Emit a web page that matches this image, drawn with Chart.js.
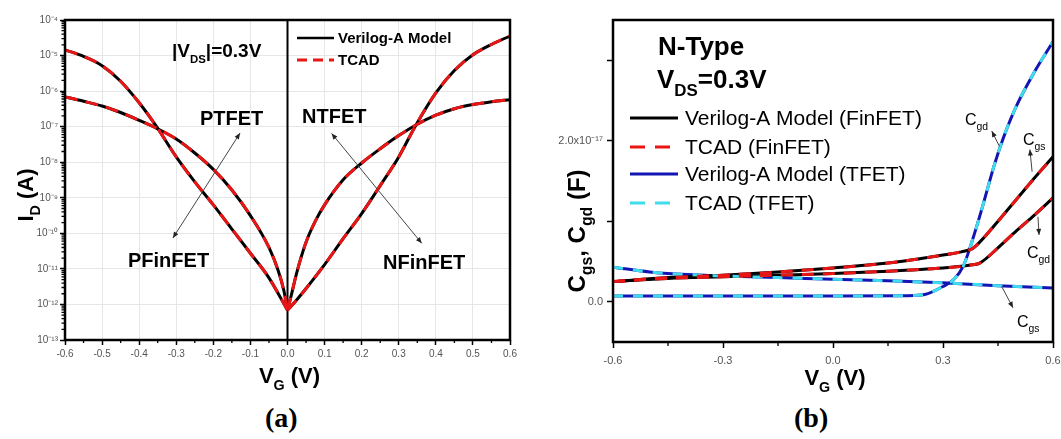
<!DOCTYPE html>
<html><head><meta charset="utf-8">
<script src="https://cdn.jsdelivr.net/npm/chart.js@4.4.1/dist/chart.umd.min.js"></script>
<style>
html,body{margin:0;padding:0;background:#fff;width:1061px;height:439px;overflow:hidden;}
#wrapA{position:absolute;left:0;top:0;width:530px;height:400px;}
#wrapB{position:absolute;left:530px;top:0;width:531px;height:400px;}
.cap{position:absolute;top:402px;font:bold 28px "Liberation Serif","Times New Roman",serif;color:#000;}
</style></head><body>
<div id="wrapA"><canvas id="chartA" width="530" height="400"></canvas></div>
<div id="wrapB"><canvas id="chartB" width="531" height="400"></canvas></div>
<div class="cap" style="left:265px">(a)</div>
<div class="cap" style="left:794px">(b)</div>
<script>
// ---------- (a) I_D vs V_G, |V_DS| = 0.3 V (A) ----------
const vgPFinFET = [-0.6,-0.55,-0.5,-0.45,-0.4,-0.353,-0.3,-0.25,-0.2,-0.15,-0.1,-0.05,0];
const idPFinFET = [1.45e-5,9.5e-6,5.2e-6,1.9e-6,4.7e-7,1.0e-7,1.41e-8,2.8e-9,6.3e-10,1.32e-10,2.75e-11,5.6e-12,6.9e-13];
const vgPTFET   = [-0.6,-0.55,-0.5,-0.45,-0.4,-0.35,-0.3,-0.25,-0.2,-0.15,-0.1,-0.05,-0.025,-0.01,0];
const idPTFET   = [6.9e-7,5.2e-7,3.8e-7,2.5e-7,1.51e-7,8.7e-8,4.5e-8,1.82e-8,6.3e-9,1.66e-9,3.16e-10,4.0e-11,8.9e-12,2.5e-12,6.9e-13];
const vgNFinFET = [0,0.02,0.05,0.1,0.15,0.2,0.25,0.3,0.345,0.4,0.45,0.5,0.55,0.6];
const idNFinFET = [6.9e-13,1.17e-12,2.8e-12,1.32e-11,7.1e-11,3.6e-10,2.2e-9,1.41e-8,1.05e-7,8.9e-7,3.8e-6,1.05e-5,2.05e-5,3.55e-5];
const vgNTFET   = [0,0.01,0.025,0.05,0.075,0.1,0.15,0.2,0.25,0.3,0.35,0.4,0.45,0.5,0.55,0.6];
const idNTFET   = [6.9e-13,1.78e-12,7.9e-12,5.6e-11,2.2e-10,6.3e-10,3.2e-9,9.5e-9,2.4e-8,5.6e-8,1.17e-7,2.1e-7,3.2e-7,4.2e-7,5.0e-7,5.75e-7];
const xTicksA   = [-0.6,-0.5,-0.4,-0.3,-0.2,-0.1,0,0.1,0.2,0.3,0.4,0.5,0.6];
const yExpA     = [-4,-5,-6,-7,-8,-9,-10,-11,-12,-13];

// ---------- (b) C_gs, C_gd vs V_G (N-type, V_DS = 0.3 V), in F ----------
const vgFin     = [-0.6,-0.45,-0.3,-0.15,0,0.15,0.3,0.35,0.38,0.4,0.45,0.5,0.55,0.6];
const cgsFinFET = [0.25e-17,0.30e-17,0.33e-17,0.37e-17,0.42e-17,0.48e-17,0.58e-17,0.62e-17,0.66e-17,0.74e-17,1.00e-17,1.27e-17,1.54e-17,1.80e-17];
const cgdFinFET = [0.25e-17,0.29e-17,0.31e-17,0.33e-17,0.35e-17,0.38e-17,0.42e-17,0.44e-17,0.46e-17,0.48e-17,0.67e-17,0.88e-17,1.08e-17,1.29e-17];
const vgTgs     = [-0.6,-0.5,-0.45,-0.3,-0.15,0,0.15,0.3,0.45,0.6];
const cgsTFET   = [0.43e-17,0.37e-17,0.35e-17,0.32e-17,0.30e-17,0.28e-17,0.26e-17,0.235e-17,0.20e-17,0.17e-17];
const vgTgd     = [-0.6,-0.3,0,0.2,0.25,0.3,0.33,0.355,0.375,0.4,0.42,0.44,0.465,0.5,0.55,0.6];
const cgdTFET   = [0.07e-17,0.07e-17,0.07e-17,0.075e-17,0.09e-17,0.19e-17,0.28e-17,0.44e-17,0.69e-17,1.06e-17,1.38e-17,1.70e-17,2.04e-17,2.43e-17,2.86e-17,3.23e-17];
const xTicksB   = [-0.6,-0.3,0,0.3,0.6];
const yTicksB   = [0,1e-17,2e-17,3e-17];
const yLabelsB  = {0:'0.0',2:'2.0x10⁻¹⁷'};

const FF = '"Liberation Sans", Arial, Helvetica, sans-serif';
const SUP = {'-':'⁻','0':'⁰','1':'¹','2':'²','3':'³','4':'⁴','5':'⁵','6':'⁶','7':'⁷','8':'⁸','9':'⁹'};
const supStr = s => String(s).split('').map(c=>SUP[c]||c).join('');
const pts = (xs,ys) => xs.map((v,i)=>({x:v,y:ys[i]}));

function drawRich(ctx, parts, x, y, o){
  const fam = o.family || FF;
  const fs = p => p[1] ? o.size*(o.subScale||0.62) : o.size;
  const font = p => `${o.weight||'normal'} ${fs(p)}px ${fam}`;
  ctx.save();
  ctx.fillStyle = o.color || '#000';
  ctx.textBaseline = o.baseline || 'alphabetic';
  ctx.textAlign = 'left';
  const widths = []; let total = 0;
  for (const p of parts){ ctx.font = font(p); const w = ctx.measureText(p[0]).width; widths.push(w); total += w; }
  ctx.translate(x, y);
  if (o.rotate) ctx.rotate(-Math.PI/2);
  let cx = o.align === 'center' ? -total/2 : 0;
  parts.forEach((p,i)=>{ ctx.font = font(p); const dy = p[1] ? o.size*(o.subDrop||0.3) : 0; ctx.fillText(p[0], cx, dy); cx += widths[i]; });
  ctx.restore();
}
function head(ctx, x, y, fx, fy, L, W){
  const a = Math.atan2(y-fy, x-fx);
  ctx.beginPath();
  ctx.moveTo(x, y);
  ctx.lineTo(x - L*Math.cos(a) + W*Math.sin(a), y - L*Math.sin(a) - W*Math.cos(a));
  ctx.lineTo(x - L*Math.cos(a) - W*Math.sin(a), y - L*Math.sin(a) + W*Math.cos(a));
  ctx.closePath(); ctx.fill();
}
function arrow(ctx, x1, y1, x2, y2, both){
  ctx.save();
  ctx.strokeStyle = '#444'; ctx.fillStyle = '#222'; ctx.lineWidth = 1;
  ctx.beginPath(); ctx.moveTo(x1,y1); ctx.lineTo(x2,y2); ctx.stroke();
  head(ctx, x2, y2, x1, y1, 6, 2.5);
  if (both) head(ctx, x1, y1, x2, y2, 6, 2.5);
  ctx.restore();
}
function legendLine(ctx, x1, x2, y, color, dash, w){
  ctx.save(); ctx.strokeStyle = color; ctx.lineWidth = w; ctx.setLineDash(dash);
  ctx.beginPath(); ctx.moveTo(x1,y); ctx.lineTo(x2,y); ctx.stroke(); ctx.restore();
}

const RED = '#ea1515', BLK = '#000', BLUE = '#1414b4', CYAN = '#3fdcec';
const common = (data, color, dash, order) => ({
  data, borderColor: color, borderWidth: 3, borderDash: dash, showLine: true,
  pointRadius: 0, cubicInterpolationMode: 'monotone', order, fill: false
});

// ---------- Chart A ----------
const plugA = {
  id: 'plugA',
  beforeDatasetsDraw(chart){
    const {ctx, chartArea: ca, scales: {x}} = chart;
    const x0 = x.getPixelForValue(0);
    ctx.save(); ctx.strokeStyle = '#000'; ctx.lineWidth = 2;
    ctx.beginPath(); ctx.moveTo(x0, ca.top); ctx.lineTo(x0, ca.bottom); ctx.stroke(); ctx.restore();
  },
  afterDraw(chart){
    const {ctx, chartArea: ca, scales: {x, y}} = chart;
    ctx.save();
    ctx.strokeStyle = '#000'; ctx.lineWidth = 1.3;
    ctx.beginPath();
    for (let i = 0; i < xTicksA.length-1; i++){ const px = x.getPixelForValue((xTicksA[i]+xTicksA[i+1])/2); ctx.moveTo(px, ca.bottom); ctx.lineTo(px, ca.bottom+3); }
    for (let e = -13; e < -4; e++) for (let m = 2; m < 10; m++){ const py = y.getPixelForValue(m*Math.pow(10,e)); ctx.moveTo(ca.left-3.5, py); ctx.lineTo(ca.left, py); }
    ctx.stroke();
    ctx.lineWidth = 2.5; ctx.strokeRect(ca.left, ca.top, ca.right-ca.left, ca.bottom-ca.top);
    ctx.restore();
    drawRich(ctx, [['V'],['G',1],[' (V)']], (ca.left+ca.right)/2+2, 383, {size:22, weight:'bold', align:'center', subScale:0.65});
    drawRich(ctx, [['I'],['D',1],[' (A)']], 33, 195, {size:22, weight:'bold', align:'center', rotate:true, subScale:0.65});
    drawRich(ctx, [['|V'],['DS',1],['|=0.3V']], 172, 57, {size:19, weight:'bold', subScale:0.6});
    drawRich(ctx, [['PTFET']], 200, 125, {size:20, weight:'bold'});
    drawRich(ctx, [['NTFET']], 302, 123, {size:20, weight:'bold'});
    drawRich(ctx, [['PFinFET']], 128, 267, {size:20, weight:'bold'});
    drawRich(ctx, [['NFinFET']], 383, 269, {size:20, weight:'bold'});
    legendLine(ctx, 297, 334, 38, BLK, [], 2.5);
    legendLine(ctx, 297, 334, 60, RED, [10,6], 3);
    drawRich(ctx, [['Verilog-A Model']], 338, 39, {size:15, weight:'bold', baseline:'middle'});
    drawRich(ctx, [['TCAD']], 338, 61, {size:15, weight:'bold', baseline:'middle'});
    const P = (vx, vy) => [x.getPixelForValue(vx), y.getPixelForValue(vy)];
    let a = P(-0.309, Math.pow(10,-10.13)), b = P(-0.128, Math.pow(10,-7.18));
    arrow(ctx, a[0], a[1], b[0], b[1], true);
    a = P(0.119, Math.pow(10,-7.19)); b = P(0.362, Math.pow(10,-10.28));
    arrow(ctx, a[0], a[1], b[0], b[1], true);
  }
};

new Chart(document.getElementById('chartA'), {
  type: 'scatter',
  data: { datasets: [
    common(pts(vgPFinFET, idPFinFET), BLK, [], 2),
    common(pts(vgPTFET, idPTFET), BLK, [], 2),
    common(pts(vgNFinFET, idNFinFET), BLK, [], 2),
    common(pts(vgNTFET, idNTFET), BLK, [], 2),
    common(pts(vgPFinFET, idPFinFET), RED, [13,8], 1),
    common(pts(vgPTFET, idPTFET), RED, [13,8], 1),
    common(pts(vgNFinFET, idNFinFET), RED, [13,8], 1),
    common(pts(vgNTFET, idNTFET), RED, [13,8], 1)
  ]},
  options: {
    responsive: false, animation: false, devicePixelRatio: 1,
    layout: { padding: { left: 0, right: 20, top: 20, bottom: 0 } },
    plugins: { legend: { display: false }, tooltip: { enabled: false } },
    scales: {
      x: { type: 'linear', min: -0.6, max: 0.6,
        afterBuildTicks: s => { s.ticks = xTicksA.map(v => ({value: v})); },
        ticks: { autoSkip: false, maxRotation: 0, padding: 3, color: '#555', font: {size: 10, family: FF}, callback: v => v.toFixed(1) },
        grid: { color: '#e6e6e6', lineWidth: 1, tickLength: 5, tickColor: '#000', tickWidth: 1.5 },
        border: { display: false },
        afterFit: s => { s.height = 60; s.paddingLeft = 0; s.paddingRight = 0; }
      },
      y: { type: 'logarithmic', min: 1e-13, max: 1e-4,
        afterBuildTicks: s => { s.ticks = yExpA.map(e => ({value: Math.pow(10, e), major: true})); },
        ticks: { autoSkip: false, padding: 2, color: '#555', font: {size: 10, family: FF}, callback: v => '10' + supStr(Math.round(Math.log10(v))) },
        grid: { color: '#e6e6e6', lineWidth: 1, tickLength: 5, tickColor: '#000', tickWidth: 1.5 },
        border: { display: false },
        afterFit: s => { s.width = 65; s.paddingTop = 0; s.paddingBottom = 0; }
      }
    }
  },
  plugins: [plugA]
});

// ---------- Chart B ----------
const plugB = {
  id: 'plugB',
  afterDraw(chart){
    const {ctx, chartArea: ca, scales: {x, y}} = chart;
    ctx.save();
    ctx.strokeStyle = '#000'; ctx.lineWidth = 1.3;
    ctx.beginPath();
    for (let i = 0; i < xTicksB.length-1; i++){ const px = x.getPixelForValue((xTicksB[i]+xTicksB[i+1])/2); ctx.moveTo(px, ca.bottom); ctx.lineTo(px, ca.bottom+4); }
    ctx.stroke();
    ctx.lineWidth = 2.5; ctx.strokeRect(ca.left, ca.top, ca.right-ca.left, ca.bottom-ca.top);
    ctx.restore();
    drawRich(ctx, [['V'],['G',1],[' (V)']], (ca.left+ca.right)/2+2, 385, {size:22, weight:'bold', align:'center', subScale:0.65});
    drawRich(ctx, [['C'],['gs',1],[', C'],['gd',1],[' (F)']], 55, 231, {size:24, weight:'bold', align:'center', rotate:true, subScale:0.66});
    drawRich(ctx, [['N-Type']], 128, 55, {size:26, weight:'bold'});
    drawRich(ctx, [['V'],['DS',1],['=0.3V']], 127, 88, {size:26, weight:'bold', subScale:0.65, subDrop:0.3});
    const L = [['Verilog-A Model (FinFET)', BLK, []], ['TCAD (FinFET)', RED, [15,10]], ['Verilog-A Model (TFET)', BLUE, []], ['TCAD (TFET)', CYAN, [15,10]]];
    const ly = [118, 147, 174, 203];
    L.forEach((e,i) => {
      legendLine(ctx, 100, 148, ly[i], e[1], e[2], 3);
      drawRich(ctx, [[e[0]]], 155, ly[i]+1, {size:21, baseline:'middle'});
    });
    drawRich(ctx, [['C'],['gd',1]], 435, 125, {size:16, subScale:0.65});
    drawRich(ctx, [['C'],['gs',1]], 493, 145, {size:16, subScale:0.65});
    drawRich(ctx, [['C'],['gd',1]], 497, 258, {size:16, subScale:0.65});
    drawRich(ctx, [['C'],['gs',1]], 487, 327, {size:16, subScale:0.65});
    const P = (vx, vy) => [x.getPixelForValue(vx), y.getPixelForValue(vy)];
    const arrs = [[0.454,1.93e-17,0.433,2.12e-17],[0.543,1.615e-17,0.537,1.89e-17],[0.559,1.056e-17,0.562,0.83e-17],[0.46,0.19e-17,0.491,-0.075e-17]];
    arrs.forEach(r => { const a = P(r[0], r[1]), b = P(r[2], r[3]); arrow(ctx, a[0], a[1], b[0], b[1], false); });
  }
};

new Chart(document.getElementById('chartB'), {
  type: 'scatter',
  data: { datasets: [
    common(pts(vgFin, cgsFinFET), BLK, [], 2),
    common(pts(vgFin, cgdFinFET), BLK, [], 2),
    common(pts(vgTgs, cgsTFET), BLUE, [], 2),
    common(pts(vgTgd, cgdTFET), BLUE, [], 2),
    common(pts(vgFin, cgsFinFET), RED, [12,9], 1),
    common(pts(vgFin, cgdFinFET), RED, [12,9], 1),
    common(pts(vgTgs, cgsTFET), CYAN, [10,10], 1),
    common(pts(vgTgd, cgdTFET), CYAN, [10,10], 1)
  ]},
  options: {
    responsive: false, animation: false, devicePixelRatio: 1,
    layout: { padding: { left: 0, right: 8, top: 20, bottom: 0 } },
    plugins: { legend: { display: false }, tooltip: { enabled: false } },
    scales: {
      x: { type: 'linear', min: -0.6, max: 0.6,
        afterBuildTicks: s => { s.ticks = xTicksB.map(v => ({value: v})); },
        ticks: { autoSkip: false, maxRotation: 0, padding: 6, color: '#555', font: {size: 11, family: FF}, callback: v => v.toFixed(1) },
        grid: { drawOnChartArea: false, tickLength: 6, tickColor: '#000', tickWidth: 1.5 },
        border: { display: false },
        afterFit: s => { s.height = 58; s.paddingLeft = 0; s.paddingRight = 0; }
      },
      y: { type: 'linear', min: -0.5e-17, max: 3.5e-17,
        afterBuildTicks: s => { s.ticks = yTicksB.map(v => ({value: v})); },
        ticks: { autoSkip: false, padding: 4, color: '#555', font: {size: 11, family: FF}, callback: v => yLabelsB[Math.round(v/1e-17)] || '' },
        grid: { drawOnChartArea: false, tickLength: 6, tickColor: '#000', tickWidth: 1.5 },
        border: { display: false },
        afterFit: s => { s.width = 83; s.paddingTop = 0; s.paddingBottom = 0; }
      }
    }
  },
  plugins: [plugB]
});
</script>
</body></html>
